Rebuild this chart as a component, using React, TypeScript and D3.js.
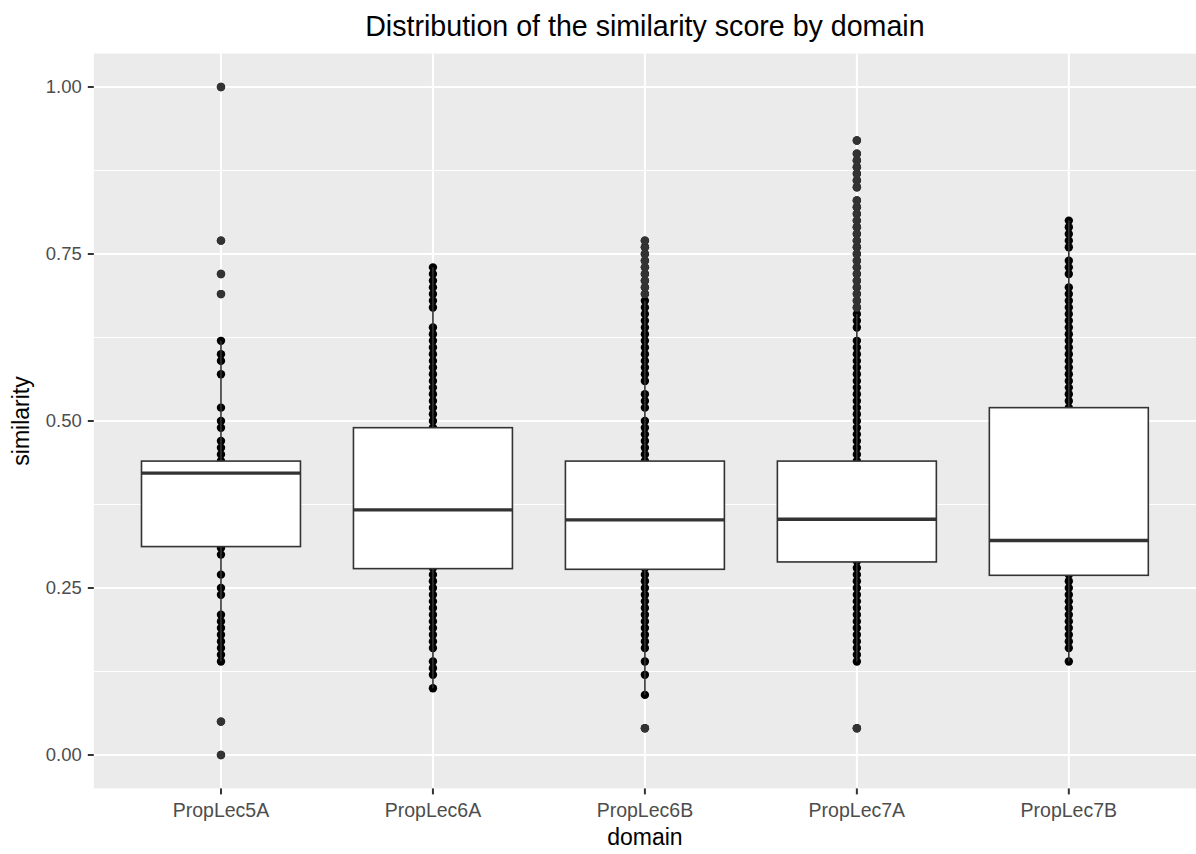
import * as d3 from "d3";
import React, {useEffect, useRef} from "react";

// domains on the x axis
const domains = ["PropLec5A", "PropLec6A", "PropLec6B", "PropLec7A", "PropLec7B"];

// similarity values per domain (distinct values)
const lec5A = [0.00, 0.05, 0.14, 0.15, 0.16, 0.17, 0.18, 0.19, 0.20, 0.21, 0.24, 0.25, 0.27, 0.30, 0.31,
  0.33, 0.35, 0.37, 0.38, 0.40, 0.42, 0.43, 0.44, 0.45, 0.46, 0.47, 0.49, 0.50, 0.52, 0.57, 0.59, 0.60,
  0.62, 0.69, 0.72, 0.77, 1.00];
const lec6A = [0.10, 0.12, 0.13, 0.14, 0.16, 0.17, 0.18, 0.19, 0.20, 0.21, 0.22, 0.23, 0.24, 0.25, 0.26,
  0.27, 0.28, 0.29, 0.30, 0.31, 0.32, 0.33, 0.34, 0.35, 0.36, 0.37, 0.38, 0.39, 0.40, 0.41, 0.42, 0.43,
  0.44, 0.45, 0.46, 0.47, 0.48, 0.49, 0.50, 0.51, 0.52, 0.53, 0.54, 0.55, 0.56, 0.57, 0.58, 0.59, 0.60,
  0.61, 0.62, 0.63, 0.64, 0.67, 0.68, 0.69, 0.70, 0.71, 0.72, 0.73];
const lec6B = [0.04, 0.09, 0.12, 0.14, 0.16, 0.17, 0.18, 0.19, 0.20, 0.21, 0.22, 0.23, 0.24, 0.25, 0.26,
  0.27, 0.28, 0.30, 0.32, 0.34, 0.36, 0.38, 0.40, 0.42, 0.44, 0.45, 0.46, 0.47, 0.48, 0.49, 0.50, 0.52,
  0.53, 0.54, 0.56, 0.57, 0.58, 0.59, 0.60, 0.61, 0.62, 0.63, 0.64, 0.65, 0.66, 0.67, 0.68, 0.69, 0.70,
  0.71, 0.72, 0.73, 0.74, 0.75, 0.76, 0.77];
const lec7A = [0.04, 0.14, 0.15, 0.16, 0.17, 0.18, 0.19, 0.20, 0.21, 0.22, 0.23, 0.24, 0.25, 0.26, 0.27,
  0.28, 0.29, 0.30, 0.32, 0.34, 0.36, 0.38, 0.40, 0.42, 0.44, 0.45, 0.46, 0.47, 0.48, 0.49, 0.50, 0.51,
  0.52, 0.53, 0.54, 0.55, 0.56, 0.57, 0.58, 0.59, 0.60, 0.61, 0.62, 0.64, 0.65, 0.66, 0.67, 0.68, 0.69,
  0.70, 0.71, 0.72, 0.73, 0.74, 0.75, 0.76, 0.77, 0.78, 0.79, 0.80, 0.81, 0.82, 0.83, 0.85, 0.86, 0.87,
  0.88, 0.89, 0.90, 0.92];
const lec7B = [0.14, 0.16, 0.17, 0.18, 0.19, 0.20, 0.21, 0.22, 0.23, 0.24, 0.25, 0.26, 0.27, 0.30, 0.33,
  0.36, 0.40, 0.45, 0.50, 0.52, 0.53, 0.54, 0.55, 0.56, 0.57, 0.58, 0.59, 0.60, 0.61, 0.62, 0.63, 0.64,
  0.65, 0.66, 0.67, 0.68, 0.69, 0.70, 0.72, 0.73, 0.74, 0.76, 0.77, 0.78, 0.79, 0.80];
const values = [lec5A, lec6A, lec6B, lec7A, lec7B];

// boxplot stats per domain
const whiskerLow = [0.14, 0.10, 0.09, 0.14, 0.14];
const q1 = [0.312, 0.279, 0.278, 0.289, 0.269];
const median = [0.422, 0.367, 0.352, 0.353, 0.321];
const q3 = [0.44, 0.49, 0.44, 0.44, 0.52];
const whiskerHigh = [0.62, 0.73, 0.68, 0.66, 0.80];

const yTicks = [0, 0.25, 0.5, 0.75, 1];
const yMinor = [0.125, 0.375, 0.625, 0.875];

const FONT = "'Liberation Sans', Arial, sans-serif";

const BoxChart: React.FC = () => {
  const ref = useRef<SVGSVGElement | null>(null);

  useEffect(() => {
    const width = 1196;
    const height = 854;
    const svg = d3.select(ref.current);
    svg.selectAll('*').remove();
    svg.attr('width', width).attr('height', height);

    const panel = {left: 93.8, right: 1196, top: 53.6, bottom: 788.4};

    const x = d3.scalePoint<string>()
      .domain(domains)
      .range([panel.left, panel.right])
      .padding(0.6);
    const boxW = x.step() * 0.75;

    const y = d3.scaleLinear()
      .domain([-0.05, 1.05])
      .range([panel.bottom, panel.top]);

    svg.append('rect')
      .attr('width', width).attr('height', height).attr('fill', '#fff');

    // panel background
    svg.append('rect')
      .attr('x', panel.left).attr('y', panel.top)
      .attr('width', panel.right - panel.left)
      .attr('height', panel.bottom - panel.top)
      .attr('fill', '#EBEBEB');

    // grid
    svg.selectAll('.minor').data(yMinor).enter().append('line')
      .attr('x1', panel.left).attr('x2', panel.right)
      .attr('y1', (d) => y(d)).attr('y2', (d) => y(d))
      .attr('stroke', '#fff').attr('stroke-width', 1);
    svg.selectAll('.major-y').data(yTicks).enter().append('line')
      .attr('x1', panel.left).attr('x2', panel.right)
      .attr('y1', (d) => y(d)).attr('y2', (d) => y(d))
      .attr('stroke', '#fff').attr('stroke-width', 2);
    svg.selectAll('.major-x').data(domains).enter().append('line')
      .attr('x1', (d) => x(d)!).attr('x2', (d) => x(d)!)
      .attr('y1', panel.top).attr('y2', panel.bottom)
      .attr('stroke', '#fff').attr('stroke-width', 2);

    // all points (geom_point)
    domains.forEach((dom, i) => {
      svg.append('g').selectAll('circle').data(values[i]).enter().append('circle')
        .attr('cx', x(dom)!)
        .attr('cy', (d) => y(d))
        .attr('r', 4.2)
        .attr('fill', '#000');
    });

    // boxplots
    domains.forEach((dom, i) => {
      const cx = x(dom)!;
      const g = svg.append('g');
      // outliers
      g.selectAll('circle')
        .data(values[i].filter((v) => v < whiskerLow[i] - 1e-9 || v > whiskerHigh[i] + 1e-9))
        .enter().append('circle')
        .attr('cx', cx).attr('cy', (d) => y(d)).attr('r', 4.2)
        .attr('fill', '#333333');
      // whiskers
      g.append('line')
        .attr('x1', cx).attr('x2', cx)
        .attr('y1', y(q3[i])).attr('y2', y(whiskerHigh[i]))
        .attr('stroke', '#333333').attr('stroke-width', 1.6);
      g.append('line')
        .attr('x1', cx).attr('x2', cx)
        .attr('y1', y(q1[i])).attr('y2', y(whiskerLow[i]))
        .attr('stroke', '#333333').attr('stroke-width', 1.6);
      // box
      g.append('rect')
        .attr('x', cx - boxW / 2).attr('y', y(q3[i]))
        .attr('width', boxW).attr('height', y(q1[i]) - y(q3[i]))
        .attr('fill', '#fff')
        .attr('stroke', '#333333').attr('stroke-width', 1.6);
      g.append('line')
        .attr('x1', cx - boxW / 2).attr('x2', cx + boxW / 2)
        .attr('y1', y(median[i])).attr('y2', y(median[i]))
        .attr('stroke', '#333333').attr('stroke-width', 3.4);
    });

    // y axis
    const yAxis = svg.append('g');
    yTicks.forEach((t) => {
      yAxis.append('line')
        .attr('x1', panel.left - 6).attr('x2', panel.left)
        .attr('y1', y(t)).attr('y2', y(t))
        .attr('stroke', '#333333').attr('stroke-width', 2);
      yAxis.append('text')
        .attr('x', panel.left - 12).attr('y', y(t))
        .attr('dy', '0.35em')
        .attr('text-anchor', 'end')
        .attr('fill', '#4D4D4D')
        .style('font-family', FONT)
        .style('font-size', '18.5px')
        .text(d3.format('.2f')(t));
    });

    // x axis
    const xAxis = svg.append('g');
    domains.forEach((dom) => {
      xAxis.append('line')
        .attr('x1', x(dom)!).attr('x2', x(dom)!)
        .attr('y1', panel.bottom).attr('y2', panel.bottom + 6)
        .attr('stroke', '#333333').attr('stroke-width', 2);
      xAxis.append('text')
        .attr('x', x(dom)!).attr('y', 817)
        .attr('text-anchor', 'middle')
        .attr('fill', '#4D4D4D')
        .style('font-family', FONT)
        .style('font-size', '19.5px')
        .text(dom);
    });

    // axis titles
    svg.append('text')
      .attr('x', (panel.left + panel.right) / 2).attr('y', 845)
      .attr('text-anchor', 'middle')
      .attr('fill', '#000')
      .style('font-family', FONT)
      .style('font-size', '23px')
      .text('domain');

    svg.append('g')
      .attr('transform', `translate(29, ${(panel.top + panel.bottom) / 2})`)
      .append('text')
      .attr('text-anchor', 'middle')
      .attr('transform', 'rotate(-90)')
      .attr('fill', '#000')
      .style('font-family', FONT)
      .style('font-size', '23px')
      .text('similarity');

    // title
    svg.append('text')
      .attr('x', (panel.left + panel.right) / 2).attr('y', 36)
      .attr('text-anchor', 'middle')
      .attr('fill', '#000')
      .style('font-family', FONT)
      .style('font-size', '28.6px')
      .text('Distribution of the similarity score by domain');

    return () => {
      svg.selectAll('*').remove();
    };
  }, []);

  return <svg ref={ref} style={{position: 'absolute', left: 0, top: 0, display: 'block'}}/>;
};

export default function App() {
  return <BoxChart/>;
}
